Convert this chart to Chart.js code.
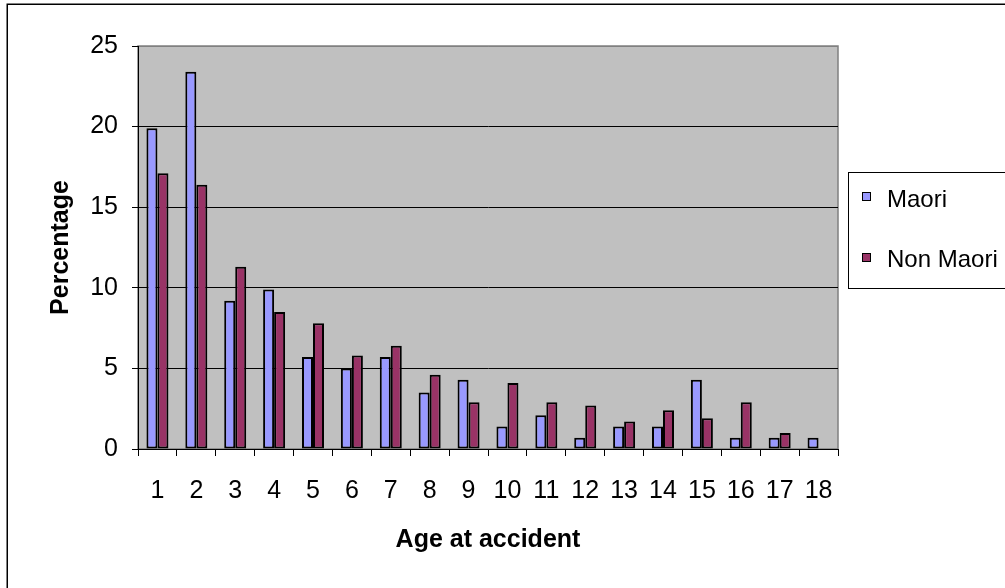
<!DOCTYPE html>
<html>
<head>
<meta charset="utf-8">
<script src="https://cdn.jsdelivr.net/npm/chart.js@4/dist/chart.umd.min.js"></script>
<style>
  html, body { margin: 0; padding: 0; background: #fff; }
  #wrap { width: 1005px; height: 588px; position: relative; }
</style>
</head>
<body>
<div id="wrap"><canvas id="c" width="1005" height="588"></canvas></div>
<script>
// Age at accident (years)
const ages = ['1','2','3','4','5','6','7','8','9','10','11','12','13','14','15','16','17','18'];
// Percentage of cases in each group
const maori    = [19.9, 23.4, 9.2, 9.9, 5.7, 5.0, 5.7, 3.5, 4.3, 1.4, 2.1, 0.7, 1.4, 1.4, 4.3, 0.7, 0.7, 0.7];
const nonMaori = [17.1, 16.4, 11.3, 8.5, 7.8, 5.8, 6.4, 4.6, 2.9, 4.1, 2.9, 2.7, 1.7, 2.4, 1.9, 2.9, 1.0, 0];
const seriesNames  = ['Maori', 'Non Maori'];
const seriesColors = ['#9999FF', '#993366'];
const yTicks = [0, 5, 10, 15, 20, 25];

const FONT = '"Liberation Sans", Arial, sans-serif';

// Page frame, grey plot area and its border
const frame = {
  id: 'frame',
  beforeDraw(chart) {
    const { ctx, chartArea: a } = chart;
    ctx.save();
    ctx.fillStyle = '#fff';
    ctx.fillRect(0, 0, chart.width, chart.height);
    ctx.strokeStyle = '#000';
    ctx.lineWidth = 1.5;
    ctx.strokeRect(7.25, 4.25, 1100, 700);
    ctx.fillStyle = '#C0C0C0';
    ctx.fillRect(a.left, a.top, a.right - a.left, a.bottom - a.top);
    ctx.strokeStyle = '#808080';
    ctx.lineWidth = 1.5;
    ctx.strokeRect(a.left, a.top, a.right - a.left, a.bottom - a.top);
    ctx.restore();
  }
};

// Boxed legend on the right
const boxLegend = {
  id: 'boxLegend',
  afterDraw(chart) {
    const { ctx } = chart;
    ctx.save();
    ctx.strokeStyle = '#000';
    ctx.lineWidth = 1;
    ctx.strokeRect(848.5, 172.5, 200, 116);
    const markerTop = [192, 253];
    const baseline = [207, 267];
    chart.data.datasets.forEach((ds, i) => {
      ctx.fillStyle = ds.backgroundColor;
      ctx.fillRect(862, markerTop[i], 9, 9);
      ctx.strokeStyle = '#000';
      ctx.lineWidth = 1;
      ctx.strokeRect(862.5, markerTop[i] + 0.5, 8, 8);
      ctx.fillStyle = '#000';
      ctx.font = '24px ' + FONT;
      ctx.textBaseline = 'alphabetic';
      ctx.textAlign = 'left';
      ctx.fillText(ds.label, 887, baseline[i]);
    });
    ctx.restore();
  }
};

new Chart(document.getElementById('c'), {
  type: 'bar',
  data: {
    labels: ages,
    datasets: [
      { label: seriesNames[0], data: maori, backgroundColor: seriesColors[0], borderColor: '#000', borderWidth: 2, borderSkipped: false },
      { label: seriesNames[1], data: nonMaori, backgroundColor: seriesColors[1], borderColor: '#000', borderWidth: 2, borderSkipped: false }
    ]
  },
  options: {
    responsive: false,
    animation: false,
    devicePixelRatio: 1,
    layout: { padding: { left: 0, top: 46, right: 167, bottom: 0 } },
    datasets: { bar: { categoryPercentage: 0.566, barPercentage: 1.0 } },
    plugins: { legend: { display: false }, tooltip: { enabled: false } },
    scales: {
      x: {
        afterFit(s) { s.height = 139; },
        grid: { offset: true, drawOnChartArea: false, tickLength: 7, color: '#000', tickColor: '#000' },
        border: { color: '#000', width: 1 },
        ticks: { color: '#000', font: { family: FONT, size: 25 }, padding: 20, maxRotation: 0, autoSkip: false },
        title: { display: true, text: 'Age at accident', color: '#000',
                 font: { family: FONT, size: 25, weight: 'bold' }, padding: { top: 0, bottom: 33 } }
      },
      y: {
        min: 0, max: 25,
        afterFit(s) { s.width = 138; },
        afterBuildTicks(s) { s.ticks = yTicks.map(v => ({ value: v })); },
        grid: { color: c => (c.tick && c.tick.value === 25) ? '#808080' : '#000', tickColor: '#000', tickLength: 6, lineWidth: 1 },
        border: { color: '#000', width: 1 },
        ticks: { color: '#000', font: { family: FONT, size: 25 }, padding: 14 },
        title: { display: true, text: 'Percentage', color: '#000',
                 font: { family: FONT, size: 25, weight: 'bold' }, padding: { top: 46, bottom: 0 } }
      }
    }
  },
  plugins: [frame, boxLegend]
});
</script>
</body>
</html>
